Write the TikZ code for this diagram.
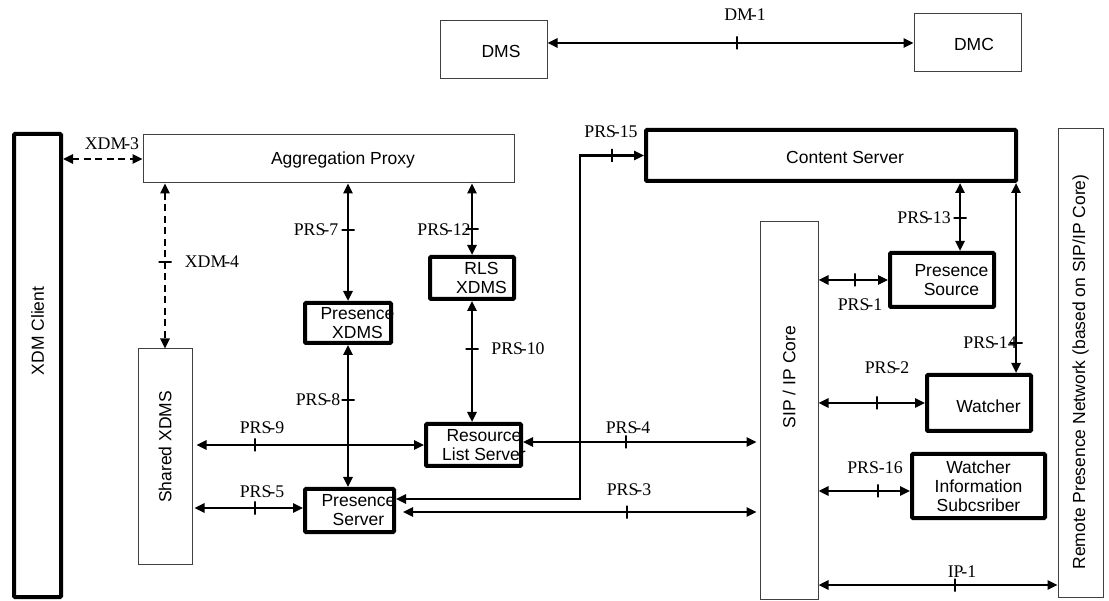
\documentclass[tikz,border=0pt]{standalone}
\usepackage{fontspec}
\setmainfont{Liberation Serif}
\newfontfamily\arialf{Liberation Sans}
\usetikzlibrary{arrows.meta}
\newcommand\hy{\kern-0.12em-}
\begin{document}
\begin{tikzpicture}[x=1pt,y=-1pt,
  >={Triangle[length=10pt,width=9pt]},
  thinbox/.style={draw=black!75, line width=1pt, rectangle, inner sep=0pt},
  thickbox/.style={draw=black, line width=4pt, rectangle, rounded corners=1pt, inner sep=0pt},
  btxt/.style={font=\arialf\fontsize{17.5pt}{19pt}\selectfont, align=center, inner sep=0pt},
  rtxt/.style={btxt, rotate=90},
  lab/.style={font=\fontsize{17.8pt}{19pt}\selectfont, inner sep=0pt},
  conn/.style={<->, line width=2.4pt},
  dconn/.style={conn, dash pattern=on 7pt off 4.5pt},
  tickv/.style={draw, line width=1.3pt, rectangle, minimum width=0pt, minimum height=13pt, inner sep=0pt, outer sep=0pt},
  tickh/.style={draw, line width=1.3pt, rectangle, minimum width=13pt, minimum height=0pt, inner sep=0pt, outer sep=0pt},
]
\useasboundingbox (0,0) rectangle (1109,601);

% ---------- boxes ----------
\node[thinbox, minimum width=107, minimum height=58] (dms) at (493.5,50) {};
\node[thinbox, minimum width=107, minimum height=58] (dmc) at (967.5,43) {};
\node[thickbox, minimum width=47, minimum height=463] (xdmc) at (37.5,365.5) {};
\node[thinbox, minimum width=371, minimum height=48] (agg) at (328.5,159) {};
\node[thinbox, minimum width=54, minimum height=215] (shx) at (165,456.5) {};
\node[thickbox, minimum width=86, minimum height=40] (pxdms) at (348,323) {};
\node[thickbox, minimum width=84, minimum height=42] (rlsx) at (472,278) {};
\node[thickbox, minimum width=95, minimum height=42] (rls) at (473.5,445) {};
\node[thickbox, minimum width=89, minimum height=43] (ps) at (349.5,510.5) {};
\node[thickbox, minimum width=370, minimum height=51] (cs) at (831,155.5) {};
\node[thinbox, minimum width=58, minimum height=377] (sip) at (789,410.5) {};
\node[thickbox, minimum width=104, minimum height=54] (psrc) at (942,280) {};
\node[thickbox, minimum width=104, minimum height=56] (wat) at (979,403) {};
\node[thickbox, minimum width=133, minimum height=64] (wis) at (978.5,486) {};
\node[thinbox, minimum width=45, minimum height=468] (rpn) at (1080.5,363) {};

% ---------- box texts ----------
\node[btxt] (dms-t) at ([xshift=7.5pt,yshift=-1pt]dms.center) {DMS};
\node[btxt] (dmc-t) at ([xshift=6.5pt,yshift=-1pt]dmc.center) {DMC};
\node[btxt] (agg-t) at ([xshift=14.5pt,yshift=-1pt]agg.center) {Aggregation Proxy};
\node[btxt] (cs-t) at ([xshift=14pt,yshift=-1.5pt]cs.center) {Content Server};
\node[btxt] (pxdms-t) at ([xshift=9.5pt]pxdms.center) {Presence\\XDMS};
\node[btxt] (rlsx-t) at ([xshift=9.5pt]rlsx.center) {RLS\\XDMS};
\node[btxt] (rls-t) at ([xshift=10.5pt]rls.center) {Resource\\List Server};
\node[btxt] (ps-t) at ([xshift=9pt]ps.center) {Presence\\Server};
\node[btxt] (psrc-t) at ([xshift=9.5pt]psrc.center) {Presence\\Source};
\node[btxt] (wat-t) at ([xshift=9.5pt,yshift=-3pt]wat.center) {Watcher};
\node[btxt] (wis-t) at (wis.center) {Watcher\\Information\\Subcsriber};
\node[rtxt] (xdmc-t) at ([yshift=34.5pt]xdmc.center) {XDM Client};
\node[rtxt] (shx-t) at ([yshift=9.5pt]shx.center) {Shared XDMS};
\node[rtxt] (sip-t) at ([yshift=33.5pt]sip.center) {SIP / IP Core};
\node[rtxt] (rpn-t) at ([yshift=-9pt]rpn.center) {Remote Presence Network (based on SIP/IP Core)};

% ---------- helper coordinates ----------
\coordinate (c15) at (580,300);
\coordinate (p13) at ([xshift=18pt]psrc.north);
\coordinate (p14) at ([xshift=37pt]wat.north);
\coordinate (p16) at ([yshift=-5pt]wis.west);
\coordinate (ip1) at (900,585);

% ---------- connectors ----------
\draw[conn] (dms.east |- dmc.west) -- (dmc.west);
\draw[dconn] (xdmc.east |- agg.west) -- (agg.west);
\draw[dconn] (agg.south -| shx.north) -- (shx.north);
\draw[conn] (agg.south -| pxdms.north) -- (pxdms.north);
\draw[conn] (agg.south -| rlsx.north) -- (rlsx.north);
\draw[conn] (rlsx.south) -- (rls.north -| rlsx.south);
\draw[conn] (pxdms.south) -- (ps.north -| pxdms.south);
\draw[conn, shorten <=4pt] (shx.east |- rls.west) -- (rls.west);
\draw[conn, shorten <=2pt] (shx.east |- ps.west) ++(0,-2.5) -- ([yshift=2.5pt]ps.west);
\draw[conn, shorten >=3pt] ([yshift=3pt]rls.east) -- ([yshift=3pt]rls.east -| sip.west);
\draw[conn, shorten <=7pt, shorten >=3pt] ([yshift=-1.5pt]ps.east) -- ([yshift=-1.5pt]ps.east -| sip.west);
\draw[conn] ([yshift=11.5pt]ps.east) -| (c15 |- cs.west) -- (cs.west);
\draw[conn] (p13) -- (p13 |- cs.south);
\draw[conn] (p14) -- (p14 |- cs.south);
\draw[conn] (sip.east |- psrc.west) -- (psrc.west);
\draw[conn] (sip.east |- wat.west) -- (wat.west);
\draw[conn] (sip.east |- p16) -- (p16);
\draw[conn] (sip.east |- ip1) -- (rpn.west |- ip1);

% ---------- ticks ----------
\node[tickv] (t-dm1) at (737,43) {};
\node[tickh] (t-xdm4) at (165,262) {};
\node[tickh] (t-prs7) at (348,230) {};
\node[tickh] (t-prs12) at (472,229) {};
\node[tickh] (t-prs10) at (472,349) {};
\node[tickh] (t-prs8) at (348,400) {};
\node[tickv] (t-prs9) at (255,445) {};
\node[tickv] (t-prs5) at (255,508) {};
\node[tickv] (t-prs4) at (626,442) {};
\node[tickv] (t-prs3) at (627,512) {};
\node[tickv] (t-prs15) at (612,155.5) {};
\node[tickh] (t-prs13) at (960,218) {};
\node[tickv] (t-prs1) at (855,280) {};
\node[tickh] (t-prs14) at (1016,343) {};
\node[tickv] (t-prs2) at (877,403) {};
\node[tickv] (t-prs16) at (878,491) {};
\node[tickv] (t-ip1) at (955,585) {};

% ---------- connector labels ----------
\node[lab] (l-dm1) at (745,15) {DM\hy1};
\node[lab] (l-xdm3) at (112,144) {XDM\hy3};
\node[lab] (l-xdm4) at (212,262) {XDM\hy4};
\node[lab] (l-prs7) at (316,230) {PRS\hy7};
\node[lab] (l-prs12) at (444,230) {PRS\hy12};
\node[lab] (l-prs10) at (518,349) {PRS\hy10};
\node[lab] (l-prs8) at (318,400) {PRS\hy8};
\node[lab] (l-prs9) at (262,428) {PRS\hy9};
\node[lab] (l-prs5) at (262,492) {PRS\hy5};
\node[lab] (l-prs4) at (628,428) {PRS\hy4};
\node[lab] (l-prs3) at (629,490) {PRS\hy3};
\node[lab] (l-prs15) at (611,132) {PRS\hy15};
\node[lab] (l-prs13) at (924,218) {PRS\hy13};
\node[lab] (l-prs1) at (860,305) {PRS\hy1};
\node[lab] (l-prs14) at (990,343) {PRS\hy14};
\node[lab] (l-prs2) at (887,368) {PRS\hy2};
\node[lab] (l-prs16) at (875,468) {PRS-16};
\node[lab] (l-ip1) at (962,572) {IP\hy1};
\end{tikzpicture}
\end{document}
